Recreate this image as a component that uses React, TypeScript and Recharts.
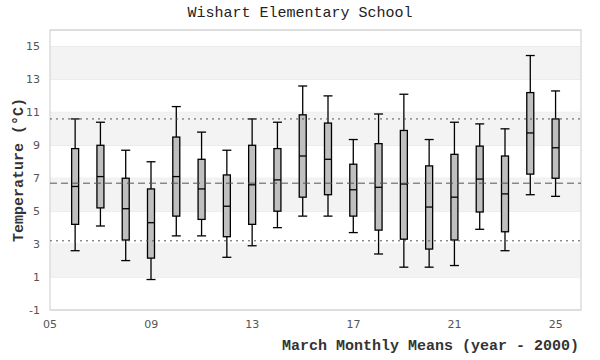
import {
  ComposedChart, Bar, XAxis, YAxis, CartesianGrid, ReferenceArea, ReferenceLine, Label,
} from 'recharts';

// March monthly mean temperatures, years since 2000
const years = [6, 7, 8, 9, 10, 11, 12, 13, 14, 15, 16, 17, 18, 19, 20, 21, 22, 23, 24, 25];
const whiskerLow = [2.6, 4.1, 2.0, 0.85, 3.5, 3.5, 2.2, 2.9, 4.0, 4.7, 4.7, 3.7, 2.4, 1.6, 1.6, 1.7, 3.9, 2.6, 6.0, 5.9];
const quartile1 = [4.2, 5.2, 3.25, 2.15, 4.7, 4.5, 3.45, 4.2, 5.0, 5.85, 6.0, 4.7, 3.85, 3.3, 2.7, 3.25, 4.95, 3.75, 7.25, 7.0];
const medians = [6.5, 7.1, 5.15, 4.3, 7.1, 6.35, 5.3, 6.6, 6.9, 8.35, 8.15, 6.3, 6.45, 6.65, 5.25, 5.85, 6.95, 6.05, 9.75, 8.85];
const quartile3 = [8.8, 9.0, 7.0, 6.35, 9.5, 8.15, 7.2, 9.0, 8.8, 10.85, 10.35, 7.85, 9.1, 9.9, 7.75, 8.45, 8.95, 8.35, 12.2, 10.6];
const whiskerHigh = [10.6, 10.4, 8.7, 8.0, 11.35, 9.8, 8.7, 10.6, 10.4, 12.6, 12.0, 9.35, 10.9, 12.1, 9.35, 10.4, 10.3, 10.0, 14.45, 12.3];

const xTicks = [5, 9, 13, 17, 21, 25];
const yTicks = [-1, 1, 3, 5, 7, 9, 11, 13, 15];
const bands = [[1, 3], [5, 7], [9, 11], [13, 15]];
const meanLine = 6.7;
const spreadLines = [3.2, 10.6];

const data = years.map((year, i) => ({
  year,
  low: whiskerLow[i],
  q1: quartile1[i],
  median: medians[i],
  q3: quartile3[i],
  high: whiskerHigh[i],
}));

const monoFont = '"Liberation Mono", monospace';

const BoxShape = (props: any) => {
  const { x, y, width, height, payload } = props;
  const top = Math.min(y, y + height);
  const h = Math.abs(height);
  const k = h / (payload.high - payload.low);
  const toY = (v: number) => top + (payload.high - v) * k;
  const cx = x + width / 2;
  const boxW = 7;
  const capW = 9;
  return (
    <g>
      <line x1={cx} x2={cx} y1={toY(payload.high)} y2={toY(payload.low)} stroke="#000" strokeWidth={1.3} />
      <line x1={cx - capW / 2} x2={cx + capW / 2} y1={toY(payload.high)} y2={toY(payload.high)} stroke="#000" strokeWidth={1.3} />
      <line x1={cx - capW / 2} x2={cx + capW / 2} y1={toY(payload.low)} y2={toY(payload.low)} stroke="#000" strokeWidth={1.3} />
      <rect
        x={cx - boxW / 2}
        y={toY(payload.q3)}
        width={boxW}
        height={toY(payload.q1) - toY(payload.q3)}
        fill="#bfbfbf"
        stroke="#000"
        strokeWidth={1.3}
      />
      <line x1={cx - boxW / 2} x2={cx + boxW / 2} y1={toY(payload.median)} y2={toY(payload.median)} stroke="#000" strokeWidth={1.3} />
    </g>
  );
};

const App = () => {
  return (
    <div style={{ position: 'absolute', left: 0, top: 0, width: 600, height: 360, background: '#fff' }}>
      <div
        style={{
          position: 'absolute', left: 0, top: 5, width: 600, textAlign: 'center',
          fontFamily: monoFont, fontSize: 15, color: '#222',
        }}
      >
        Wishart Elementary School
      </div>
      <ComposedChart
        width={600}
        height={360}
        data={data}
        margin={{ top: 30, right: 19, bottom: 20, left: 0 }}
      >
        {bands.map(([a, b]) => (
          <ReferenceArea key={a} y1={a} y2={b} fill="#f3f3f3" fillOpacity={1} stroke="none" />
        ))}
        <CartesianGrid vertical={false} stroke="#e2e2e2" strokeWidth={1} />
        <ReferenceArea y1={-1} y2={16} fill="none" stroke="#d8d8d8" strokeWidth={1.3} />
        <XAxis
          dataKey="year"
          type="number"
          domain={[5, 26]}
          ticks={xTicks}
          tickFormatter={(v: number) => String(v).padStart(2, '0')}
          axisLine={false}
          tickLine={false}
          tick={{ fill: '#555', fontSize: 11, fontFamily: '"DejaVu Sans", sans-serif' }}
          tickMargin={4}
          height={30}
        />
        <YAxis
          type="number"
          domain={[-1, 16]}
          ticks={yTicks}
          axisLine={false}
          tickLine={false}
          tick={{ fill: '#555', fontSize: 11, fontFamily: '"DejaVu Sans", sans-serif' }}
          tickMargin={4}
          width={50}
        >
          <Label
            value="Temperature (°C)"
            angle={-90}
            position="insideLeft"
            offset={18}
            style={{ textAnchor: 'middle', fontFamily: monoFont, fontSize: 15, fontWeight: 'bold', fill: '#333' }}
          />
        </YAxis>
        {spreadLines.map((v) => (
          <ReferenceLine key={v} y={v} stroke="#555" strokeDasharray="2 4" strokeWidth={1} />
        ))}
        <ReferenceLine y={meanLine} stroke="#555" strokeDasharray="7 4" strokeWidth={1} />
        <Bar
          dataKey={(d: any) => [d.low, d.high]}
          barSize={9}
          shape={BoxShape}
          isAnimationActive={false}
        />
      </ComposedChart>
      <div
        style={{
          position: 'absolute', right: 21, top: 338, whiteSpace: 'nowrap',
          fontFamily: monoFont, fontSize: 15, fontWeight: 'bold', color: '#333',
        }}
      >
        March Monthly Means (year - 2000)
      </div>
    </div>
  );
};

export default App;
